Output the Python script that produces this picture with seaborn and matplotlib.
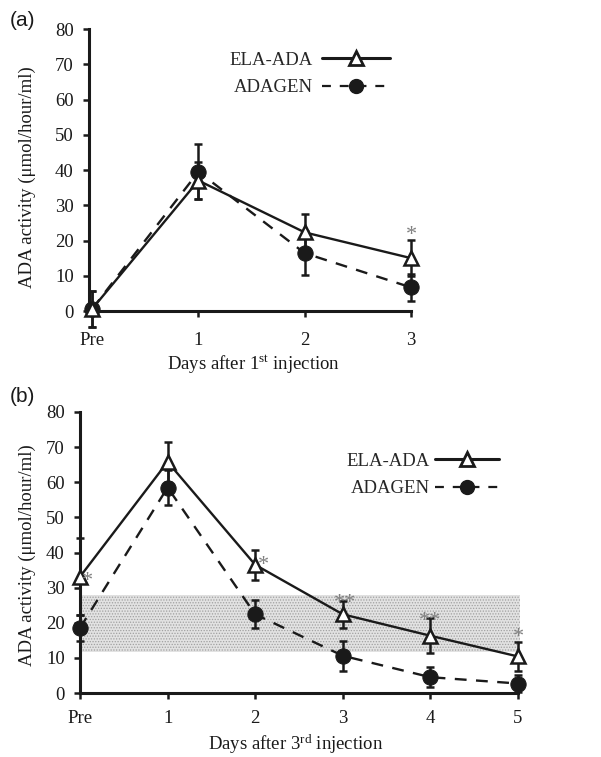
import matplotlib
matplotlib.use("Agg")
import matplotlib.pyplot as plt
import seaborn as sns
import numpy as np
import pandas as pd
from matplotlib.lines import Line2D

# ---------------- data ----------------
days_a = ["Pre", "1", "2", "3"]
ela_a = [0.6, 37.0, 22.3, 15.0]
ela_a_err = [5.0, 5.2, 5.2, 5.2]
adagen_a = [0.6, 39.5, 16.4, 6.7]
adagen_a_err = [5.1, 7.8, 6.2, 3.9]

days_b = ["Pre", "1", "2", "3", "4", "5"]
ela_b = [33.1, 65.8, 36.5, 22.4, 16.3, 10.4]
ela_b_err = [11.0, 5.6, 4.3, 3.8, 5.0, 4.0]
adagen_b = [18.5, 58.5, 22.4, 10.6, 4.5, 2.7]
adagen_b_err = [3.8, 5.0, 4.0, 4.3, 2.8, 2.5]

band_b = [11.8, 28.0]

series_names = ["ELA-ADA", "ADAGEN"]

# ---------------- style ----------------
sns.set_theme(style="ticks")
plt.rcParams["font.family"] = ["Liberation Serif", "DejaVu Serif"]
plt.rcParams["mathtext.fontset"] = "custom"
plt.rcParams["mathtext.rm"] = "Liberation Serif"
plt.rcParams["mathtext.it"] = "Liberation Serif:italic"
plt.rcParams["hatch.linewidth"] = 0.6

FS = 13.5
INK = "#1a1a1a"

fig = plt.figure(figsize=(6.01, 7.57), dpi=100)
W, H = 601, 757


def px_axes(l, t, r, b):
    return fig.add_axes([l / W, 1 - b / H, (r - l) / W, (b - t) / H])


ax_a = px_axes(89, 29, 411, 311)
ax_b = px_axes(80, 412, 518, 693)


def draw(ax, days, ela, ela_err, ada, ada_err):
    x = np.arange(len(days))
    df = pd.DataFrame({
        "x": np.concatenate([x, x]),
        "y": ela + ada,
        "series": [series_names[0]] * len(x) + [series_names[1]] * len(x),
    })
    ax.errorbar(x, ada, yerr=ada_err, fmt="none", ecolor=INK,
                elinewidth=1.8, capsize=3, capthick=1.8, zorder=3, clip_on=False)
    ax.errorbar(x, ela, yerr=ela_err, fmt="none", ecolor=INK,
                elinewidth=1.8, capsize=3, capthick=1.8, zorder=3, clip_on=False)
    sns.lineplot(data=df[df.series == series_names[1]], x="x", y="y", ax=ax,
                 color=INK, linewidth=1.7, marker="o", markersize=11,
                 markerfacecolor=INK, markeredgecolor=INK,
                 legend=False, zorder=4, clip_on=False)
    ax.lines[-1].set_dashes([5, 4])
    sns.lineplot(data=df[df.series == series_names[0]], x="x", y="y", ax=ax,
                 color=INK, linewidth=1.7, marker="^", markersize=9.5,
                 markerfacecolor="white", markeredgecolor=INK,
                 markeredgewidth=1.8, legend=False, zorder=5, clip_on=False)
    ax.set_ylim(0, 80)
    ax.set_yticks(np.arange(0, 81, 10))
    ax.set_xticks(x)
    ax.set_xticklabels(days)
    ax.set_xlim(-0.03 if len(days) == 4 else 0, len(days) - 1)
    for s in ["top", "right"]:
        ax.spines[s].set_visible(False)
    for s in ["left", "bottom"]:
        ax.spines[s].set_linewidth(2.2)
        ax.spines[s].set_color(INK)
    ax.tick_params(axis="both", labelsize=FS, colors=INK, width=1.8, length=4,
                   direction="out")
    ax.tick_params(axis="y", pad=7)
    ax.set_ylabel("ADA activity (\u03bcmol/hour/ml)", fontsize=FS, color=INK)
    ax.grid(False)
    ax.set_facecolor("none")
    handles = [
        Line2D([], [], color=INK, linewidth=2.2, marker="^", markersize=9.5,
               markerfacecolor="white", markeredgecolor=INK, markeredgewidth=2),
        Line2D([], [], color=INK, linewidth=1.6, linestyle=(0, (4, 4)), marker="o",
               markersize=10, markerfacecolor=INK, markeredgecolor=INK),
    ]
    return handles


h = draw(ax_a, days_a, ela_a, ela_a_err, adagen_a, adagen_a_err)
ax_a.tick_params(axis="x", pad=11)
ax_a.set_xlabel("Days after 1$^{\\mathrm{st}}$ injection", fontsize=FS, color=INK)
ax_a.yaxis.set_label_coords(-0.166, 0.475)
ax_a.xaxis.set_label_coords(0.512, -0.15)
ax_a.legend(h, series_names, loc="upper left", bbox_to_anchor=(0.437, 0.92),
            frameon=False, markerfirst=False, handlelength=3.6, handletextpad=0.5,
            labelspacing=0.55, borderpad=0, borderaxespad=0, fontsize=FS)
ax_a.text(3.0, 21.3, "*", ha="center", va="center", fontsize=16, color="#808080")

# panel b band
ax_b.axhspan(band_b[0], band_b[1], xmin=0, xmax=1.005, facecolor="#e2e2e2",
             edgecolor="#a0a0a0", hatch="......", linewidth=0, zorder=1, clip_on=False)
h = draw(ax_b, days_b, ela_b, ela_b_err, adagen_b, adagen_b_err)
ax_b.tick_params(axis="x", pad=8)
ax_b.set_xlabel("Days after 3$^{\\mathrm{rd}}$ injection", fontsize=FS, color=INK)
ax_b.yaxis.set_label_coords(-0.101, 0.49)
ax_b.xaxis.set_label_coords(0.493, -0.14)
ax_b.legend(h, series_names, loc="upper left", bbox_to_anchor=(0.608, 0.855),
            frameon=False, markerfirst=False, handlelength=3.4, handletextpad=0.3,
            labelspacing=0.55, borderpad=0, borderaxespad=0, fontsize=FS)
ast_x = [0.08, 2.1, 3.02, 4.0, 5.0]
ast_y = [31.8, 36.3, 25.4, 20.4, 15.8]
ast_t = ["*", "*", "**", "**", "*"]
for xx, yy, tt in zip(ast_x, ast_y, ast_t):
    ax_b.text(xx, yy, tt, ha="center", va="center", fontsize=16, color="#808080",
              zorder=6, clip_on=False)

fig.text(10 / W, 1 - 20 / H, "(a)", fontsize=15, family="Liberation Sans",
         va="center", ha="left", color=INK)
fig.text(10 / W, 1 - 396 / H, "(b)", fontsize=15, family="Liberation Sans",
         va="center", ha="left", color=INK)

fig.savefig("out.png", dpi=100)
